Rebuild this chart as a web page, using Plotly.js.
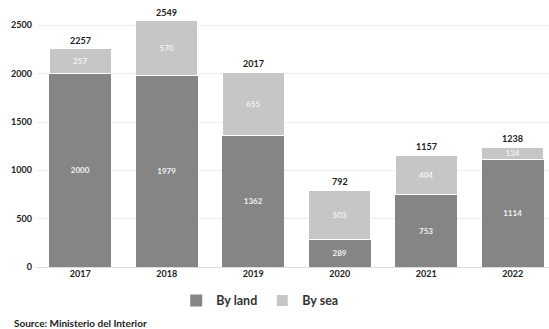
<!DOCTYPE html>
<html>
<head>
<meta charset="utf-8">
<script src="https://cdn.plot.ly/plotly-3.0.1.min.js"></script>
<style>html,body{margin:0;padding:0;background:#fff;}#chart{width:549px;height:329px;}</style>
</head>
<body>
<div id="chart"></div>
<script>
const years = ['2017','2018','2019','2020','2021','2022'];
const byLand = [2000, 1979, 1362, 289, 753, 1114];
const bySea = [257, 570, 655, 503, 404, 124];
const totals = byLand.map((v, i) => v + bySea[i]);
const yTicks = [0, 500, 1000, 1500, 2000, 2500];

const FONT = 'Lato, "Open Sans", sans-serif';
const landColor = '#858585';
const seaColor = '#c6c6c6';

const traces = [
  {
    type: 'bar', name: 'By land', x: years, y: byLand,
    marker: {color: landColor},
    text: byLand.map(String), textposition: 'inside', insidetextanchor: 'middle',
    constraintext: 'none',
    textfont: {family: FONT, size: 8, color: '#f2f2f2', weight: 'bold'},
    hoverinfo: 'none'
  },
  {
    type: 'bar', name: 'By sea', x: years, y: bySea,
    marker: {color: seaColor, line: {color: '#ffffff', width: 1}},
    text: bySea.map(String), textposition: 'inside', insidetextanchor: 'middle',
    constraintext: 'none',
    textfont: {family: FONT, size: 8, color: '#f2f2f2', weight: 'bold'},
    hoverinfo: 'none'
  }
];

const annotations = years.map((yr, i) => ({
  x: i, y: totals[i], xref: 'x', yref: 'y', text: String(totals[i]),
  showarrow: false, yanchor: 'bottom', yshift: 1,
  font: {family: FONT, size: 9, color: '#222', weight: 'bold'}
}));
annotations.push({
  xref: 'paper', yref: 'paper', x: -0.048, y: -0.214, xanchor: 'left', yanchor: 'middle',
  text: 'Source: Ministerio del Interior', showarrow: false,
  font: {family: FONT, size: 10, color: '#222', weight: 'bold'}
});

const layout = {
  width: 549, height: 329,
  margin: {l: 37, r: 0, t: 6, b: 62},
  paper_bgcolor: '#fff', plot_bgcolor: '#fff',
  barmode: 'stack', bargap: 0.28,
  showlegend: true,
  legend: {orientation: 'h', x: 0.435, xanchor: 'center', y: -0.13, yanchor: 'middle',
    font: {family: FONT, size: 12.5, color: '#333', weight: 'bold'}, itemwidth: 30, traceorder: 'normal'},
  xaxis: {
    type: 'category', range: [-0.5, 5.42], showgrid: false, zeroline: false, showline: false,
    ticks: '', tickfont: {family: FONT, size: 9, color: '#222', weight: 'bold'}
  },
  yaxis: {
    range: [0, 2700], tickvals: yTicks, ticktext: yTicks.map(String),
    showgrid: true, gridcolor: '#ececec', gridwidth: 1, zeroline: true, zerolinecolor: '#dcdcdc',
    showline: false, ticks: '', ticklabelstandoff: 4,
    tickfont: {family: FONT, size: 9, color: '#222', weight: 'bold'}
  },
  annotations: annotations,
  font: {family: FONT}
};

Plotly.newPlot('chart', traces, layout, {displayModeBar: false, staticPlot: true});
</script>
</body>
</html>
